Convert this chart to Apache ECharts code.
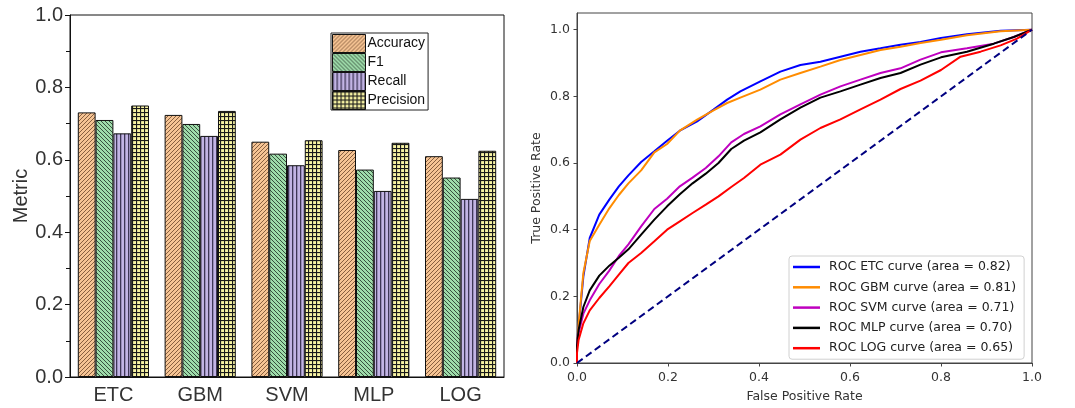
<!DOCTYPE html>
<html>
<head>
<meta charset="utf-8">
<script src="https://cdn.jsdelivr.net/npm/echarts@6/dist/echarts.min.js"></script>
<style>
  html, body { margin: 0; padding: 0; background: #fff; }
  #main { width: 1075px; height: 408px; }
</style>
</head>
<body>
<div id="main"></div>
<script>
// bar chart data
var models = ['ETC', 'GBM', 'SVM', 'MLP', 'LOG'];
var accuracy = [0.731, 0.724, 0.650, 0.627, 0.610];
var f1 = [0.710, 0.699, 0.617, 0.573, 0.551];
var recall = [0.673, 0.666, 0.585, 0.514, 0.492];
var precision = [0.750, 0.735, 0.654, 0.647, 0.625];
var metricTicks = [0, 0.2, 0.4, 0.6, 0.8, 1.0];

// ROC curves [fpr, tpr]
var rocEtc = [[0,0],[0,0.06],[0.0035,0.11],[0.014,0.26],[0.028,0.375],[0.049,0.445],[0.071,0.49],[0.092,0.53],[0.113,0.563],[0.141,0.603],[0.17,0.635],[0.198,0.667],[0.226,0.697],[0.264,0.725],[0.3,0.76],[0.33,0.79],[0.359,0.815],[0.403,0.845],[0.447,0.874],[0.491,0.894],[0.535,0.904],[0.579,0.919],[0.623,0.934],[0.667,0.944],[0.711,0.955],[0.755,0.963],[0.8,0.975],[0.857,0.986],[0.931,0.997],[1,1]];
var rocGbm = [[0,0],[0,0.05],[0.0035,0.115],[0.014,0.27],[0.028,0.366],[0.049,0.415],[0.071,0.464],[0.092,0.504],[0.113,0.539],[0.141,0.578],[0.17,0.632],[0.198,0.657],[0.226,0.697],[0.264,0.73],[0.3,0.758],[0.33,0.78],[0.359,0.796],[0.403,0.82],[0.447,0.85],[0.491,0.87],[0.535,0.889],[0.579,0.909],[0.623,0.924],[0.667,0.939],[0.711,0.949],[0.755,0.96],[0.8,0.97],[0.857,0.983],[0.931,0.995],[1,1]];
var rocSvm = [[0,0],[0,0.05],[0.0035,0.09],[0.014,0.148],[0.028,0.188],[0.049,0.237],[0.071,0.277],[0.092,0.321],[0.113,0.356],[0.141,0.41],[0.17,0.462],[0.198,0.493],[0.226,0.53],[0.254,0.556],[0.283,0.585],[0.311,0.62],[0.339,0.662],[0.367,0.687],[0.403,0.71],[0.447,0.746],[0.491,0.776],[0.535,0.805],[0.579,0.83],[0.623,0.85],[0.667,0.87],[0.711,0.884],[0.755,0.91],[0.8,0.932],[0.857,0.944],[0.916,0.958],[0.96,0.978],[1,1]];
var rocMlp = [[0,0],[0,0.05],[0.0035,0.099],[0.014,0.168],[0.028,0.218],[0.049,0.262],[0.071,0.292],[0.092,0.316],[0.113,0.341],[0.141,0.385],[0.17,0.43],[0.198,0.47],[0.226,0.506],[0.254,0.539],[0.283,0.568],[0.311,0.6],[0.339,0.642],[0.367,0.667],[0.403,0.692],[0.447,0.731],[0.491,0.766],[0.535,0.796],[0.579,0.815],[0.623,0.835],[0.667,0.855],[0.711,0.87],[0.755,0.895],[0.8,0.917],[0.857,0.934],[0.916,0.958],[0.96,0.978],[1,1]];
var rocLog = [[0,0],[0,0.03],[0.0035,0.069],[0.014,0.119],[0.028,0.158],[0.049,0.195],[0.071,0.23],[0.092,0.265],[0.113,0.3],[0.141,0.33],[0.17,0.365],[0.198,0.4],[0.226,0.425],[0.254,0.45],[0.283,0.475],[0.311,0.5],[0.339,0.528],[0.367,0.555],[0.403,0.595],[0.447,0.625],[0.491,0.67],[0.535,0.705],[0.579,0.731],[0.623,0.761],[0.667,0.79],[0.711,0.822],[0.755,0.847],[0.8,0.879],[0.843,0.919],[0.887,0.934],[0.931,0.953],[0.967,0.973],[1,1]];
var chance = [[0, 0], [1, 1]];
var rocNames = [
  'ROC ETC curve (area = 0.82)',
  'ROC GBM curve (area = 0.81)',
  'ROC SVM curve (area = 0.71)',
  'ROC MLP curve (area = 0.70)',
  'ROC LOG curve (area = 0.65)'
];
var rocTicks = [0, 0.2, 0.4, 0.6, 0.8, 1.0];

// hatch fills like the origin plot
function hatch(bg, fg, kind) {
    var s = 4;
    var c = document.createElement('canvas');
    c.width = s; c.height = s;
    var ctx = c.getContext('2d');
    ctx.fillStyle = bg;
    ctx.fillRect(0, 0, s, s);
    ctx.strokeStyle = fg;
    ctx.fillStyle = fg;
    ctx.lineWidth = 0.9;
    ctx.beginPath();
    if (kind === 'fwd') {
        ctx.moveTo(0, s); ctx.lineTo(s, 0);
        ctx.moveTo(-1, 1); ctx.lineTo(1, -1);
        ctx.moveTo(s - 1, s + 1); ctx.lineTo(s + 1, s - 1);
        ctx.stroke();
    } else if (kind === 'back') {
        ctx.moveTo(0, 0); ctx.lineTo(s, s);
        ctx.moveTo(-1, s - 1); ctx.lineTo(1, s + 1);
        ctx.moveTo(s - 1, -1); ctx.lineTo(s + 1, 1);
        ctx.stroke();
    } else if (kind === 'vert') {
        ctx.fillRect(0, 0, 1.3, s);
    } else {
        ctx.fillRect(0, 0, s, 1.1);
        ctx.fillRect(0, 0, 1.1, s);
    }
    return { image: c, repeat: 'repeat' };
}

var fills = {
    acc: hatch('#f6c494', '#7a5436', 'fwd'),
    f1: hatch('#9edcaa', '#2c4032', 'back'),
    rec: hatch('#c2b4e4', '#3e3656', 'vert'),
    pre: hatch('#f8f4a4', '#1a1a1a', 'grid')
};

function barSeries(name, data, fill) {
    return {
        name: name,
        type: 'bar',
        data: data,
        barGap: '0%',
        barCategoryGap: '18%',
        itemStyle: { color: fill, borderColor: '#111', borderWidth: 1 }
    };
}

function rocSeries(name, data, color) {
    return {
        name: name,
        type: 'line',
        xAxisIndex: 1,
        yAxisIndex: 1,
        data: data,
        symbol: 'none',
        lineStyle: { color: color, width: 2 },
        itemStyle: { color: color }
    };
}

var leftFont = 'Liberation Sans, Arial, sans-serif';
var rightFont = 'DejaVu Sans, sans-serif';

var myChart = echarts.init(document.getElementById('main'));
myChart.setOption({
    animation: false,
    grid: [
        { left: 70, top: 15, width: 434, height: 362, show: true, borderColor: '#111', borderWidth: 1 },
        { left: 577, top: 13, width: 455, height: 354, show: true, borderColor: '#444', borderWidth: 1 }
    ],
    legend: [
        {
            data: ['Accuracy', 'F1', 'Recall', 'Precision'],
            orient: 'vertical',
            left: 331,
            top: 33,
            icon: 'rect',
            itemWidth: 33,
            itemHeight: 18,
            itemGap: 0,
            padding: [1, 3, 0, 1],
            borderColor: '#222',
            borderWidth: 1,
            backgroundColor: '#fff',
            itemStyle: { borderColor: '#111', borderWidth: 1 },
            textStyle: { fontFamily: leftFont, fontSize: 14, color: '#111', padding: [0, 0, 0, -3] }
        },
        {
            data: rocNames,
            orient: 'vertical',
            left: 789,
            top: 256,
            icon: 'rect',
            itemWidth: 27,
            itemHeight: 2.5,
            itemGap: 6.3,
            padding: [4, 8, 4, 4],
            borderColor: '#d0d0d0',
            borderWidth: 1,
            borderRadius: 3,
            backgroundColor: '#fff',
            textStyle: { fontFamily: rightFont, fontSize: 12.5, color: '#222', lineHeight: 14, padding: [0, 0, 0, 4] }
        }
    ],
    xAxis: [
        {
            type: 'category',
            gridIndex: 0,
            data: models,
            axisLine: { lineStyle: { color: '#111' } },
            axisTick: { inside: true, length: 4, lineStyle: { color: '#111' } },
            axisLabel: { fontFamily: leftFont, fontSize: 20, color: '#333', margin: 8 }
        },
        {
            type: 'value',
            gridIndex: 1,
            min: 0,
            max: 1,
            interval: 0.2,
            splitLine: { show: false },
            axisLine: { onZero: false, lineStyle: { color: '#444' } },
            axisTick: { length: 3.5, lineStyle: { color: '#444' } },
            axisLabel: {
                fontFamily: rightFont, fontSize: 12.5, color: '#333', margin: 8,
                formatter: function (v) { return v.toFixed(1); }
            },
            name: 'False Positive Rate',
            nameLocation: 'middle',
            nameGap: 27,
            nameTextStyle: { fontFamily: rightFont, fontSize: 12.5, color: '#333' }
        }
    ],
    yAxis: [
        {
            type: 'value',
            gridIndex: 0,
            min: 0,
            max: 1,
            interval: 0.2,
            splitLine: { show: false },
            axisLine: { show: true, lineStyle: { color: '#111' } },
            axisTick: { show: true, length: 5, lineStyle: { color: '#111' } },
            minorTick: { show: true, splitNumber: 2, length: 4, lineStyle: { color: '#111' } },
            axisLabel: {
                fontFamily: leftFont, fontSize: 20, color: '#333', margin: 7,
                customValues: metricTicks,
                formatter: function (v) { return v.toFixed(1); }
            },
            name: 'Metric',
            nameLocation: 'middle',
            nameGap: 33,
            nameTextStyle: { fontFamily: leftFont, fontSize: 20, color: '#333' }
        },
        {
            type: 'value',
            gridIndex: 1,
            min: 0,
            max: 1.05,
            splitLine: { show: false },
            axisLine: { show: true, onZero: false, lineStyle: { color: '#444' } },
            axisTick: { show: true, length: 3.5, customValues: rocTicks, lineStyle: { color: '#444' } },
            axisLabel: {
                fontFamily: rightFont, fontSize: 12.5, color: '#333', margin: 7,
                customValues: rocTicks,
                formatter: function (v) { return v.toFixed(1); }
            },
            name: 'True Positive Rate',
            nameLocation: 'middle',
            nameGap: 34,
            nameTextStyle: { fontFamily: rightFont, fontSize: 12.5, color: '#333' }
        }
    ],
    series: [
        barSeries('Accuracy', accuracy, fills.acc),
        barSeries('F1', f1, fills.f1),
        barSeries('Recall', recall, fills.rec),
        barSeries('Precision', precision, fills.pre),
        rocSeries(rocNames[0], rocEtc, '#0000ff'),
        rocSeries(rocNames[1], rocGbm, '#ff8c00'),
        rocSeries(rocNames[2], rocSvm, '#bf00bf'),
        rocSeries(rocNames[3], rocMlp, '#000000'),
        rocSeries(rocNames[4], rocLog, '#ff0000'),
        {
            type: 'line',
            xAxisIndex: 1,
            yAxisIndex: 1,
            data: chance,
            symbol: 'none',
            lineStyle: { color: '#000080', width: 2, type: [7, 4] }
        }
    ]
});
</script>
</body>
</html>
